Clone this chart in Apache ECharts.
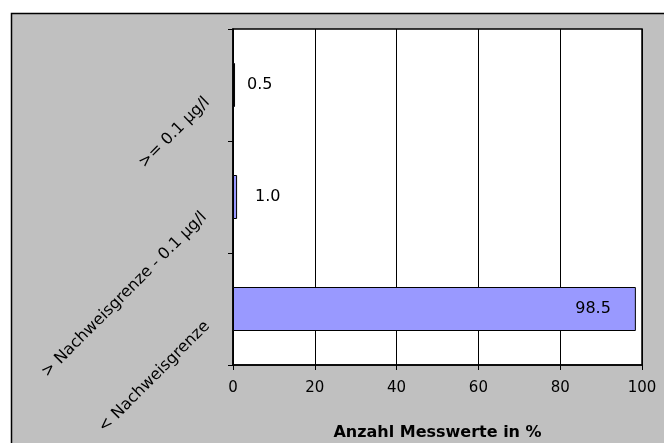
<!DOCTYPE html>
<html>
<head>
<meta charset="utf-8">
<script src="https://cdn.jsdelivr.net/npm/echarts@6/dist/echarts.min.js"></script>
<style>
  html, body { margin: 0; padding: 0; background: #fff; }
  #chart { width: 664px; height: 443px; }
</style>
</head>
<body>
<div id="chart"></div>
<script>
// Share of measured values per concentration class (bottom to top)
var categories = ['< Nachweisgrenze', '> Nachweisgrenze - 0.1 µg/l', '>= 0.1 µg/l'];
var percentValues = [98.5, 1.0, 0.5];
var axisTitle = 'Anzahl Messwerte in %';

// Label placement per bar: gap between bar end and its value text
var valueLabelGap = [25, 18, 12];
// Padding [top, right, bottom, left] for the slanted category labels
var categoryLabelPad = [[0, 21, 7, 0], [46, 25, 0, 0], [24, 21, 0, 0]];

var FONT = 'DejaVu Sans';

var barData = percentValues.map(function (v, i) {
  var inside = v > 50;
  return {
    value: v,
    label: {
      position: inside ? 'insideRight' : 'right',
      distance: valueLabelGap[i]
    }
  };
});

var categoryData = categories.map(function (c, i) {
  return { value: c, textStyle: { padding: categoryLabelPad[i] } };
});

var chart = echarts.init(document.getElementById('chart'), null, { renderer: 'canvas' });
chart.setOption({
  backgroundColor: '#ffffff',
  animation: false,
  graphic: [{
    type: 'rect',
    z: -100,
    silent: true,
    shape: { x: 11.5, y: 13.5, width: 700, height: 500 },
    style: { fill: '#c0c0c0', stroke: '#000', lineWidth: 1.5 }
  }],
  grid: {
    left: 233, top: 29, right: 22, bottom: 78,
    outerBoundsMode: 'none',
    containLabel: false,
    show: true,
    backgroundColor: '#ffffff',
    borderColor: '#000',
    borderWidth: 1.5
  },
  xAxis: {
    type: 'value',
    min: 0, max: 100, interval: 20,
    name: axisTitle,
    nameLocation: 'middle',
    nameGap: 60,
    nameTextStyle: { fontFamily: FONT, fontSize: 16, fontWeight: 'bold', color: '#000' },
    axisLine: { show: true, lineStyle: { color: '#000', width: 1.5 } },
    axisTick: { show: true, length: 5, lineStyle: { color: '#000' } },
    axisLabel: { fontFamily: FONT, fontSize: 15, color: '#000', margin: 16 },
    splitLine: { show: true, lineStyle: { color: '#000', width: 1 } }
  },
  yAxis: {
    type: 'category',
    data: categoryData,
    axisLine: { show: true, lineStyle: { color: '#000', width: 1.5 } },
    axisTick: { show: true, length: 5, alignWithLabel: false, lineStyle: { color: '#000' } },
    axisLabel: {
      rotate: 45,
      margin: 11,
      fontFamily: FONT,
      fontSize: 16,
      color: '#000'
    },
    splitLine: { show: false }
  },
  series: [{
    type: 'bar',
    data: barData,
    barWidth: 44,
    itemStyle: { color: '#9999ff', borderColor: '#000', borderWidth: 1 },
    label: {
      show: true,
      fontFamily: FONT,
      fontSize: 16,
      color: '#000',
      formatter: function (p) { return p.value.toFixed(1); }
    }
  }]
});
</script>
</body>
</html>
